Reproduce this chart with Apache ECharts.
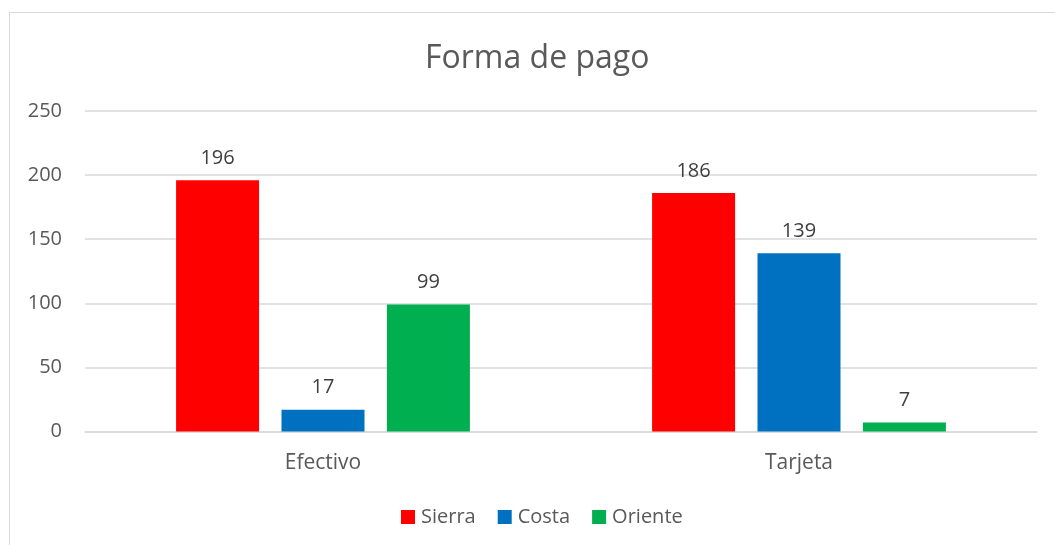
<!DOCTYPE html>
<html>
<head>
<meta charset="utf-8">
<script src="https://cdn.jsdelivr.net/npm/echarts@6/dist/echarts.min.js"></script>
<style>html,body{margin:0;padding:0;background:#fff;}#c{width:1055px;height:545px;}</style>
</head>
<body>
<div id="c"></div>
<script>
var categories = ['Efectivo', 'Tarjeta'];
var seriesNames = ['Sierra', 'Costa', 'Oriente'];
var sierra = [196, 186];
var costa = [17, 139];
var oriente = [99, 7];
var yTicks = [0, 50, 100, 150, 200, 250];
var colors = ['#ff0000', '#0070c0', '#00b050'];

var FONT = '"Open Sans", "Noto Sans", sans-serif';
var chart = echarts.init(document.getElementById('c'), null, {renderer: 'canvas'});
var values = [sierra, costa, oriente];
var series = seriesNames.map(function (n, i) {
  return {
    name: n, type: 'bar', data: values[i],
    barWidth: 83, barGap: '27%',
    itemStyle: {color: colors[i]},
    label: {show: true, position: 'top', distance: 12, color: '#404040', fontSize: 20, fontFamily: FONT}
  };
});
chart.setOption({
  animation: false,
  backgroundColor: '#ffffff',
  graphic: [{type: 'rect', shape: {x: 9.5, y: 12.5, width: 1200, height: 700},
    style: {fill: 'none', stroke: '#d9d9d9', lineWidth: 1}, silent: true}],
  title: {text: 'Forma de pago', left: 420, top: 38,
    textStyle: {fontFamily: FONT, fontSize: 32, fontWeight: 'normal', color: '#595959'}},
  legend: {data: seriesNames, bottom: 13, left: 396, itemWidth: 14, itemHeight: 14, itemGap: 22,
    icon: 'rect', textStyle: {fontFamily: FONT, fontSize: 20, color: '#595959', padding: [0,0,0,1]}},
  grid: {left: 85, right: 18, top: 111, bottom: 113.5, containLabel: false},
  xAxis: {type: 'category', data: categories,
    axisLine: {lineStyle: {color: '#d9d9d9', width: 1.5}}, axisTick: {show: false},
    axisLabel: {fontFamily: FONT, fontSize: 21, color: '#595959', margin: 21}},
  yAxis: {type: 'value', min: yTicks[0], max: yTicks[yTicks.length-1], interval: 50,
    axisLine: {show: false}, axisTick: {show: false},
    splitLine: {lineStyle: {color: '#d9d9d9', width: 1.5}},
    axisLabel: {fontFamily: FONT, fontSize: 20, color: '#595959', margin: 23}},
  series: series
});
</script>
</body>
</html>
